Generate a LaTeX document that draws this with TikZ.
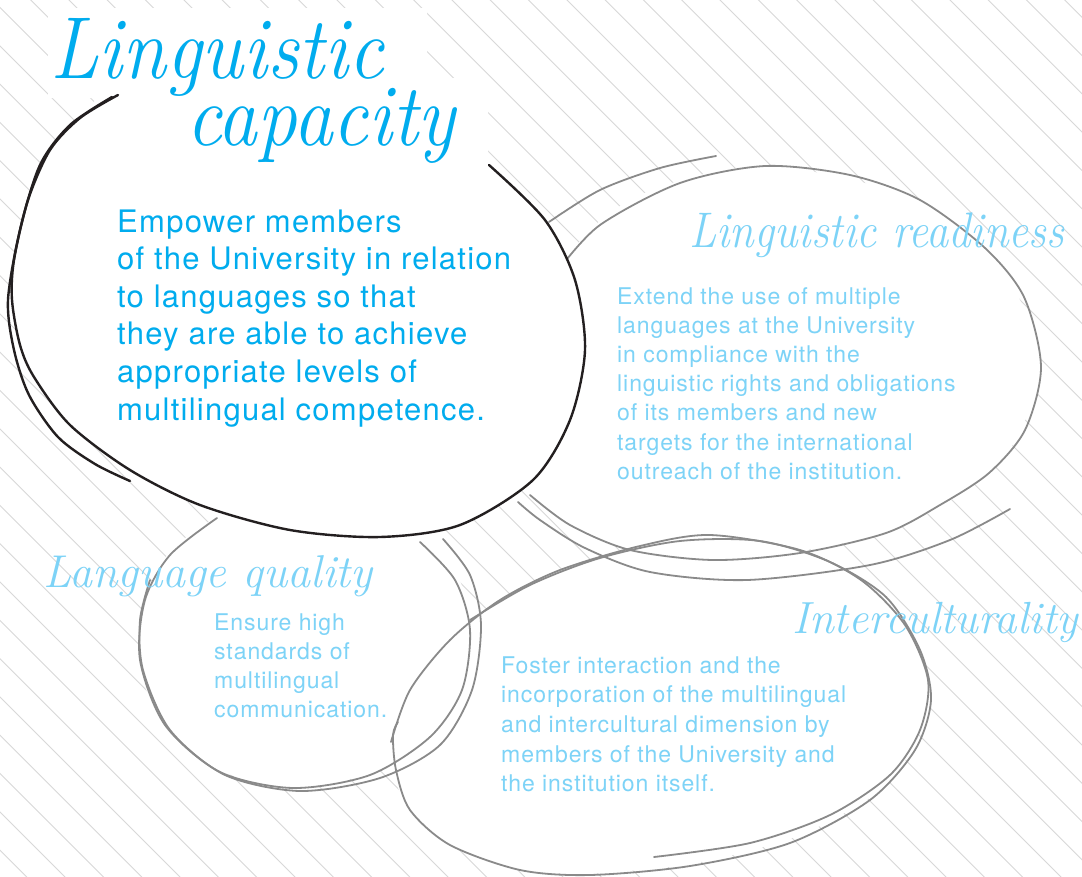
\documentclass[tikz,border=0pt]{standalone}
\usepackage{fontspec}
\newfontfamily\bodyfont{TeX Gyre Heros}[LetterSpace=4]
\definecolor{deepcyan}{RGB}{0,172,238}
\definecolor{lightcyan}{RGB}{125,211,247}
\definecolor{hatchgray}{RGB}{216,216,216}
\definecolor{ringgray}{RGB}{138,138,138}
\definecolor{ringblack}{RGB}{35,31,32}
\tikzset{
  hatchline/.style={draw=hatchgray, line width=0.9pt},
  grayring/.style={draw=ringgray, line width=1.8pt, line cap=round},
  blackring/.style={draw=ringblack, line width=2.4pt, line cap=round},
  bodytext/.style={anchor=base west, inner sep=0pt},
  scripttitle/.style={anchor=base west, inner sep=0pt, font=\itshape},
}
\begin{document}
\begin{tikzpicture}[x=1pt,y=-1pt]
\useasboundingbox (0,0) rectangle (1082,876);
\fill[white] (0,0) rectangle (1082,876);
% hatch background
\begin{scope}
\clip (0,0) rectangle (1082,876);
\foreach \k in {-31,...,24}{
  \pgfmathsetmacro\c{7.6+38.3*\k}
  \draw[hatchline] (-60,-60+\c) -- (1150,1150+\c);
}
\end{scope}
% white patch behind the main title
\fill[white] (48,8) -- (427,8) -- (427,78) -- (488,78) -- (488,178) -- (175,178) -- (175,98) -- (48,98) -- cycle;
% fills of the grey rings
\fill[white] plot[smooth cycle] coordinates {(569,257) (640,195) (765,166) (920,200) (1000,262) (1041,367) (1020,430) (989,473) (886,533) (713,560) (600,540) (540,500) (535,380)};
\fill[white] plot[smooth cycle] coordinates {(394,733) (430,670) (482,613) (540,580) (620,550) (706,533) (810,550) (861,580) (910,630) (931,687) (917,740) (880,790) (800,835) (700,862) (600,873) (520,870) (450,845) (410,810) (396,780)};
\fill[white] plot[smooth cycle] coordinates {(217,518) (160,565) (138,647) (160,720) (220,770) (293,788) (380,770) (430,737) (468,680) (470,620) (450,560) (400,525) (300,505)};
% readiness ring strokes
\draw[grayring] plot[smooth] coordinates {(560,268) (600,225) (680,183) (765,166) (850,175) (920,200) (985,248) (1024,297) (1041,367) (1025,430) (989,473) (940,505) (886,533) (800,553) (713,560) (630,550) (570,525) (530,495)};
\draw[grayring] plot[smooth] coordinates {(549,222) (600,190) (660,168) (716,156)};
\draw[grayring] plot[smooth] coordinates {(1010,509) (950,540) (870,565) (747,580) (650,572) (585,548) (540,520) (518,502)};
% interculturality ring strokes
\draw[grayring] plot[smooth] coordinates {(391,742) (410,690) (450,640) (500,600) (560,570) (640,546) (710,535) (800,550) (861,580) (905,625) (928,680) (920,730) (890,775) (830,815) (750,843) (654,857)};
\draw[grayring] plot[smooth] coordinates {(470,620) (530,585) (600,558) (680,541) (760,541) (830,562) (886,597) (920,650) (931,700) (915,750) (870,800) (790,843) (690,866) (590,875) (520,870) (450,845) (410,810) (396,770) (393,735) (398,722)};
% language quality ring strokes
\draw[grayring] plot[smooth] coordinates {(420,542) (455,580) (470,630) (462,690) (430,737) (370,775) (293,788) (220,772) (165,725) (140,660) (145,600) (170,555) (217,518)};
\draw[grayring] plot[smooth] coordinates {(443,539) (470,575) (481,625) (472,690) (440,745) (380,778) (300,791) (225,775) (170,730) (143,670) (140,620) (150,580)};
% black ring
\fill[white] plot[smooth cycle] coordinates {(118,95) (80,118) (50,150) (28,200) (14,260) (12,300) (20,345) (34,377) (70,425) (130,470) (200,505) (290,530) (380,537) (460,525) (533,480) (570,420) (585,350) (575,280) (545,220) (489,165) (300,110)};
\draw[blackring] plot[smooth] coordinates {(118,95) (80,118) (50,150) (28,200) (14,260) (12,300) (20,345) (34,377) (70,425) (130,470) (200,505) (290,530) (380,537) (460,525) (533,480) (570,420) (585,350) (575,280) (545,220) (489,165)};
\draw[blackring] plot[smooth] coordinates {(112,97) (70,125) (40,165) (20,230) (8,300) (14,350) (29,395) (58,437) (95,464) (130,481)};
% titles
\node[scripttitle, text=deepcyan, font=\fontsize{88}{88}\selectfont\itshape, xscale=0.9] (capA) at (50,78) {Linguistic};
\node[scripttitle, text=deepcyan, font=\fontsize{88}{88}\selectfont\itshape, xscale=0.9] (capB) at (186,145) {capacity};
\node[scripttitle, text=lightcyan, font=\fontsize{50}{50}\selectfont\itshape, xscale=0.89] (readT) at (689,247) {Linguistic readiness};
\node[scripttitle, text=lightcyan, font=\fontsize{46}{46}\selectfont\itshape] (qualT) at (43,587) {Language quality};
\node[scripttitle, text=lightcyan, font=\fontsize{45}{45}\selectfont\itshape] (interT) at (792,633) {Interculturality};
% body texts
\node[bodytext, text=deepcyan] (capText) at (117,232) {\parbox[t]{480pt}{\bodyfont\fontsize{31}{37.6}\selectfont\raggedright
Empower members\\
of the University in relation\\
to languages so that\\
they are able to achieve\\
appropriate levels of\\
multilingual competence.}};
\node[bodytext, text=lightcyan] (readText) at (617,304) {\parbox[t]{420pt}{\bodyfont\fontsize{23}{29.2}\selectfont\raggedright
Extend the use of multiple\\
languages at the University\\
in compliance with the\\
linguistic rights and obligations\\
of its members and new\\
targets for the international\\
outreach of the institution.}};
\node[bodytext, text=lightcyan] (qualText) at (214,630) {\parbox[t]{300pt}{\bodyfont\fontsize{23}{29}\selectfont\raggedright
Ensure high\\
standards of\\
multilingual\\
communication.}};
\node[bodytext, text=lightcyan] (interText) at (501,673) {\parbox[t]{420pt}{\bodyfont\fontsize{23}{29.7}\selectfont\raggedright
Foster interaction and the\\
incorporation of the multilingual\\
and intercultural dimension by\\
members of the University and\\
the institution itself.}};
\end{tikzpicture}
\end{document}
